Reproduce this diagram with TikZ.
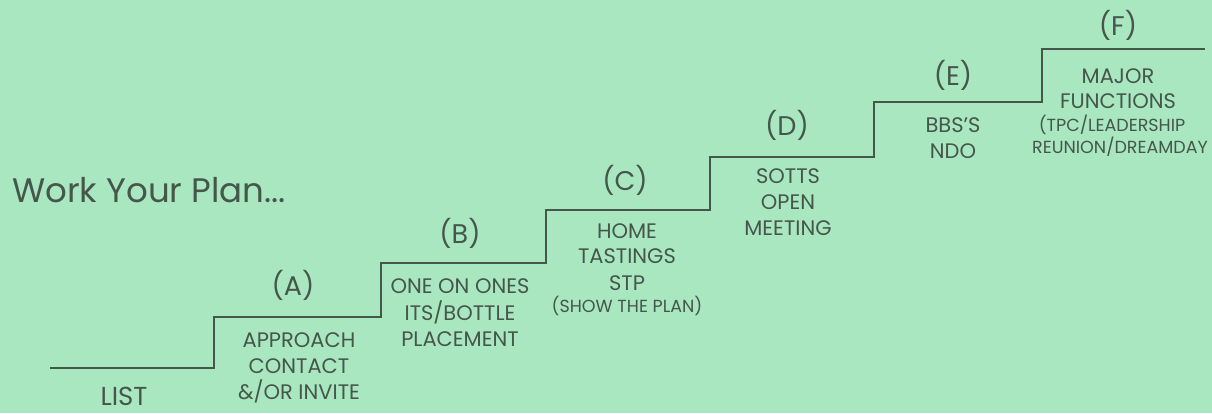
\documentclass[tikz,border=0pt]{standalone}
\usepackage{fontspec}
\setmainfont{Poppins}
\definecolor{bg}{HTML}{A9E7C1}
\definecolor{ink}{HTML}{45564B}
\begin{document}
\begin{tikzpicture}[x=1pt,y=-1pt,
  txt/.style={inner sep=0pt,anchor=base,text=ink,font=\fontsize{21}{21}\selectfont},
  small/.style={txt,font=\fontsize{17.5}{17.5}\selectfont},
  big/.style={txt,font=\fontsize{26}{26}\selectfont},
  letter/.style={inner sep=0pt,text=ink,font=\fontsize{27}{27}\selectfont},
  stairs/.style={draw=ink,line width=1.7pt}]
\fill[bg] (0,0) rectangle (1212,413);
\useasboundingbox (0,0) rectangle (1212,413);
% step corners
\coordinate (s0) at (50,368);
\coordinate (s1) at (214,368);
\coordinate (s2) at (214,317);
\coordinate (s3) at (381,317);
\coordinate (s4) at (381,263);
\coordinate (s5) at (546,263);
\coordinate (s6) at (546,210);
\coordinate (s7) at (710,210);
\coordinate (s8) at (710,157);
\coordinate (s9) at (874,157);
\coordinate (s10) at (874,102);
\coordinate (s11) at (1042,102);
\coordinate (s12) at (1042,49);
\coordinate (s13) at (1205,49);
\draw[stairs] (s0) -- (s1) -- (s2) -- (s3) -- (s4) -- (s5) -- (s6) -- (s7) -- (s8) -- (s9) -- (s10) -- (s11) -- (s12) -- (s13);
% title
\node[inner sep=0pt,anchor=base west,text=ink,font=\fontsize{34}{34}\selectfont] (title) at (12,202) {Work Your Plan...};
% step letters
\node[letter] (lA) at (293,285) {(A)};
\node[letter] (lB) at (460,233) {(B)};
\node[letter] (lC) at (625,180) {(C)};
\node[letter] (lD) at (787,125) {(D)};
\node[letter] (lE) at (953,75) {(E)};
\node[letter] (lF) at (1118,25) {(F)};
% texts
\node[big] (list) at (124,405) {LIST};
\node[txt] (a1) at (299,347) {APPROACH};
\node[txt] (a2) at (299,373) {CONTACT};
\node[txt] (a3) at (299,399) {\&/OR INVITE};
\node[txt] (b1) at (460,293) {ONE ON ONES};
\node[txt] (b2) at (460,320) {ITS/BOTTLE};
\node[txt] (b3) at (460,346) {PLACEMENT};
\node[txt] (c1) at (627,238) {HOME};
\node[txt] (c2) at (627,263) {TASTINGS};
\node[txt] (c3) at (627,290) {STP};
\node[small] (c4) at (627,312) {(SHOW THE PLAN)};
\node[txt] (d1) at (788,183) {SOTTS};
\node[txt] (d2) at (788,209) {OPEN};
\node[txt] (d3) at (788,235) {MEETING};
\node[txt] (e1) at (953,132) {BBS'S};
\node[txt] (e2) at (953,158) {NDO};
\node[txt] (f1) at (1118,83) {MAJOR};
\node[txt] (f2) at (1118,108) {FUNCTIONS};
\node[small] (f3) at (1112,131) {(TPC/LEADERSHIP};
\node[small] (f4) at (1120,153) {REUNION/DREAMDAY};
\end{tikzpicture}
\end{document}
